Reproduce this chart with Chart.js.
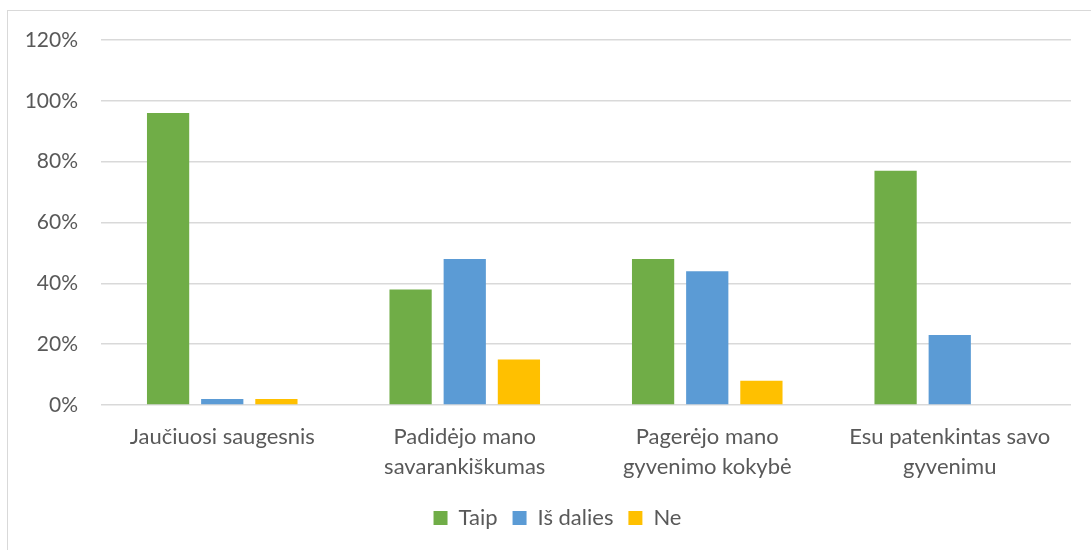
<!DOCTYPE html>
<html lang="lt">
<head>
  <meta charset="UTF-8" />
  <title>Apklausos rezultatai</title>
  <script src="https://cdn.jsdelivr.net/npm/chart.js"></script>
  <style>
    html, body { margin: 0; padding: 0; background: #fff; overflow: hidden; }
    #wrap { position: relative; width: 1091px; height: 550px; }
    #frame { position: absolute; left: 7px; top: 10px; width: 1100px; height: 600px; border: 1px solid #d9d9d9; box-sizing: border-box; }
    #chart { position: absolute; left: 0; top: 0; }
  </style>
</head>
<body>
  <div id="wrap">
    <div id="frame"></div>
    <canvas id="chart" width="1091" height="550"></canvas>
  </div>

  <script>
    const kategorijos = [
      "Jaučiuosi saugesnis",
      ["Padidėjo mano", "savarankiškumas"],
      ["Pagerėjo mano", "gyvenimo kokybė"],
      ["Esu patenkintas savo", "gyvenimu"]
    ];
    const taip = [96, 38, 48, 77];
    const isDalies = [2, 48, 44, 23];
    const ne = [2, 15, 8, 0];
    const yTicks = [0, 20, 40, 60, 80, 100, 120];

    const tekstas = "#595959";
    const sriftas = "Lato, 'Open Sans', sans-serif";

    // legenda reference'e centruota pagal visą rėmelį, todėl pastumiam į dešinę
    const legendosPoslinkis = {
      id: "legendosPoslinkis",
      afterLayout(chart) {
        chart.legend.left += 22;
        chart.legend.right += 22;
      }
    };

    new Chart(document.getElementById("chart"), {
      type: "bar",
      data: {
        labels: kategorijos,
        datasets: [
          { label: "Taip", data: taip, backgroundColor: "#70ad47" },
          { label: "Iš dalies", data: isDalies, backgroundColor: "#5b9bd5" },
          { label: "Ne", data: ne, backgroundColor: "#ffc000" }
        ]
      },
      plugins: [legendosPoslinkis],
      options: {
        responsive: false,
        animation: false,
        categoryPercentage: 0.67,
        barPercentage: 0.78,
        layout: { padding: { top: 40, right: 20, bottom: 11, left: 0 } },
        plugins: {
          legend: {
            position: "bottom",
            labels: {
              color: tekstas,
              font: { family: sriftas, size: 22 },
              boxWidth: 14,
              boxHeight: 14,
              padding: 15
            }
          },
          tooltip: { enabled: false }
        },
        scales: {
          x: {
            afterFit: s => { s.height = 87; },
            grid: { display: false, drawTicks: false },
            border: { display: false },
            ticks: {
              color: tekstas,
              font: { family: sriftas, size: 22, lineHeight: 1.36 },
              padding: 17,
              maxRotation: 0,
              autoSkip: false
            }
          },
          y: {
            min: 0,
            max: 120,
            afterFit: s => { s.width = 101; },
            afterBuildTicks: s => { s.ticks = yTicks.map(v => ({ value: v })); },
            grid: { color: "#d9d9d9", lineWidth: 1.5, drawTicks: false },
            border: { display: false },
            ticks: {
              color: tekstas,
              font: { family: sriftas, size: 21 },
              padding: 23,
              callback: v => v + "%"
            }
          }
        }
      }
    });
  </script>
</body>
</html>
